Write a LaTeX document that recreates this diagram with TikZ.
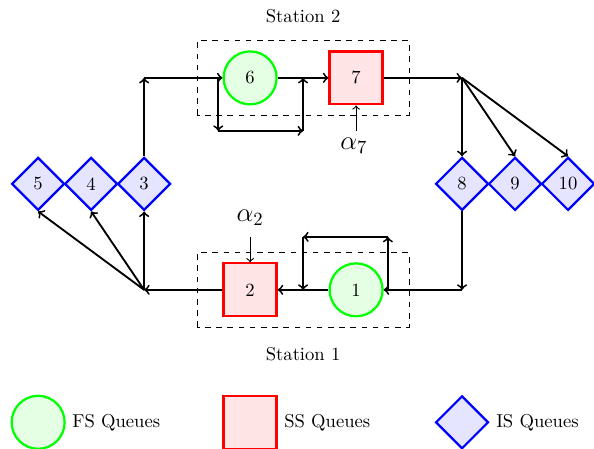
\documentclass[tikz,border=0pt]{standalone}
\usepackage{amsmath}
\usetikzlibrary{shapes.geometric}

\tikzset{fsq/.style={circle,draw=green,fill=green!10,very thick,minimum size=1cm,inner sep=0pt},
  ssq/.style={rectangle,draw=red,fill=red!10,very thick,minimum size=1cm,inner sep=0pt},
  isq/.style={diamond,draw=blue,fill=blue!10,very thick,minimum size=1cm,inner sep=0pt},
  flow/.style={line width=1pt,->}}

\begin{document}
\begin{tikzpicture}
\useasboundingbox (-4.72,-3.0) rectangle (6.49,5.47);
% station 1
\node[fsq] (n1) at (2,0) {1}; \node[ssq] (n2) at (0,0) {2};
\draw[dashed] (-1,-0.7) rectangle (3,0.7); \node (st1) at (1,-1.21) {Station 1};
% station 2
\node[fsq] (n6) at (0,4) {6}; \node[ssq] (n7) at (2,4) {7};
\draw[dashed] (-1,3.3) rectangle (3,4.7); \node (st2) at (1,5.17) {Station 2};
% delay queues
\node[isq] (n3) at (-2,2) {3}; \node[isq] (n4) at (-3,2) {4};
\node[isq] (n5) at (-4,2) {5}; \node[isq] (n8) at (4,2) {8};
\node[isq] (n9) at (5,2) {9}; \node[isq] (n10) at (6,2) {10};
\coordinate (jl) at (-2,0); \coordinate (tl) at (-2,4);
\coordinate (jr) at (4,4); \coordinate (br) at (4,0);
% routing
\draw[flow] (n2) -- (jl); \draw[flow] (jl) -- (n3.south);
\draw[flow] (jl) -- (n4.south); \draw[flow] (jl) -- (n5.south);
\draw[flow] (n3) -- (tl); \draw[flow] (tl) -- (n6);
\draw[flow] (n6) -- (n7); \draw[flow] (n7) -- (jr);
\draw[flow] (jr) -- (n8.north); \draw[flow] (jr) -- (n9.north);
\draw[flow] (jr) -- (n10.north);
\draw[flow] (n8) -- (br); \draw[flow] (br) -- (n1); \draw[flow] (n1) -- (n2);
% feedback loops
\coordinate (fa) at (-0.6,4); \coordinate (fb) at (-0.6,3);
\coordinate (fc) at (1,3); \coordinate (fd) at (1,4);
\draw[flow] (fa) -- (fb); \draw[flow] (fb) -- (fc); \draw[flow] (fc) -- (fd);
\coordinate (ga) at (2.6,0); \coordinate (gb) at (2.6,1);
\coordinate (gc) at (1,1); \coordinate (gd) at (1,0);
\draw[flow] (ga) -- (gb); \draw[flow] (gb) -- (gc); \draw[flow] (gc) -- (gd);
% arrivals
\coordinate (in7) at (2,3.0); \node (al7) at (1.96,2.72) {\Large $\alpha_7$};
\draw[semithick,->] (in7) -- (n7.south);
\coordinate (in2) at (0,1.0); \node (al2) at (0,1.36) {\Large $\alpha_2$};
\draw[semithick,->] (in2) -- (n2.north);
% legend
\node[fsq] (lg1) at (-4,-2.5) {}; \node[right] (lt1) at (lg1.east) {FS Queues};
\node[ssq] (lg2) at (0,-2.5) {}; \node[right] (lt2) at (lg2.east) {SS Queues};
\node[isq] (lg3) at (4,-2.5) {}; \node[right] (lt3) at (lg3.east) {IS Queues};
\end{tikzpicture}
\end{document}
